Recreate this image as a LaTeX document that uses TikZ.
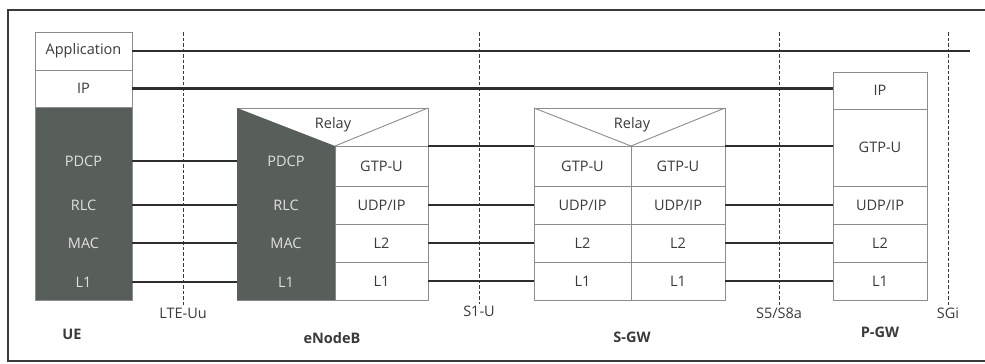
\documentclass[tikz,border=0pt]{standalone}
\usepackage{fontspec}
\setmainfont{Open Sans}
\usepackage{xcolor}
\usetikzlibrary{positioning}

\definecolor{boxline}{HTML}{8C8C8C}
\definecolor{stackdark}{HTML}{585E59}
\definecolor{txtgray}{HTML}{3A3A3A}
\definecolor{linkgray}{HTML}{2E2E2E}

\begin{document}
\begin{tikzpicture}[
  x=1pt, y=-1pt,
  font=\fontsize{14.5}{16}\selectfont,
  layer/.style={draw=boxline, line width=0.9pt, fill=white, text=txtgray, inner sep=0pt, outer sep=0pt},
  darktxt/.style={text=white!88!black, inner sep=0pt, outer sep=0pt},
  label/.style={text=txtgray, inner sep=1pt},
  title/.style={text=txtgray, font=\fontsize{14.5}{16}\selectfont\bfseries},
  link/.style={draw=linkgray, line width=2.5pt},
  iface/.style={draw=txtgray, line width=0.8pt, dash pattern=on 3.5pt off 2pt}
]
  \useasboundingbox (0,0) rectangle (985,364);
  % outer frame, open to the right
  \draw[draw=txtgray, line width=1.3pt] (990,10) -- (8,10) -- (8,361) -- (990,361);

  % UE
  \node[layer, minimum width=97, minimum height=38, anchor=north west] (ue-app) at (35,32) {Application};
  \node[layer, minimum width=97, minimum height=37, below=0pt of ue-app] (ue-ip) {IP};
  \node[layer, fill=stackdark, minimum width=97, minimum height=193, below=0pt of ue-ip] (ue-dark) {};
  \node[darktxt, minimum width=97] (ue-pdcp) at (83.5,161) {PDCP};
  \node[darktxt, minimum width=97] (ue-rlc) at (83.5,205) {RLC};
  \node[darktxt, minimum width=97] (ue-mac) at (83.5,243) {MAC};
  \node[darktxt, minimum width=97] (ue-l1) at (83.5,282) {L1};

  % eNodeB
  \node[layer, minimum width=191, minimum height=192, anchor=north west] (enb) at (237,108) {};
  \node[layer, minimum width=93, minimum height=40, anchor=north west] (enb-gtp) at (335,146) {GTP-U};
  \node[layer, minimum width=93, minimum height=38, below=0pt of enb-gtp] (enb-udp) {UDP/IP};
  \node[layer, minimum width=93, minimum height=38, below=0pt of enb-udp] (enb-l2) {L2};
  \node[layer, minimum width=93, minimum height=38, below=0pt of enb-l2] (enb-l1) {L1};
  \fill[stackdark] (enb.north west) -- (enb-gtp.north west) -- (enb-l1.south west) -- (enb.south west) -- cycle;
  \draw[boxline, line width=0.9pt] (enb-gtp.north west) -- (enb.north east);
  \node[label] (enb-relay) at (333,125) {Relay};
  \node[darktxt, minimum width=98] (enb-pdcp) at (286,161) {PDCP};
  \node[darktxt, minimum width=98] (enb-rlc) at (286,205) {RLC};
  \node[darktxt, minimum width=98] (enb-mac) at (286,243) {MAC};
  \node[darktxt, minimum width=98] (enb-phy) at (286,282) {L1};

  % S-GW
  \node[layer, minimum width=191, minimum height=192, anchor=north west] (sgw) at (534,108) {};
  \node[layer, minimum width=97, minimum height=40, anchor=north west] (sgw-gtp1) at (534,146) {GTP-U};
  \node[layer, minimum width=97, minimum height=38, below=0pt of sgw-gtp1] (sgw-udp1) {UDP/IP};
  \node[layer, minimum width=97, minimum height=38, below=0pt of sgw-udp1] (sgw-l21) {L2};
  \node[layer, minimum width=97, minimum height=38, below=0pt of sgw-l21] (sgw-l11) {L1};
  \node[layer, minimum width=94, minimum height=40, anchor=north west] (sgw-gtp2) at (631,146) {GTP-U};
  \node[layer, minimum width=94, minimum height=38, below=0pt of sgw-gtp2] (sgw-udp2) {UDP/IP};
  \node[layer, minimum width=94, minimum height=38, below=0pt of sgw-udp2] (sgw-l22) {L2};
  \node[layer, minimum width=94, minimum height=38, below=0pt of sgw-l22] (sgw-l12) {L1};
  \draw[boxline, line width=0.9pt] (sgw.north west) -- (sgw-gtp1.north east) -- (sgw.north east);
  \node[label] (sgw-relay) at (632,125) {Relay};

  % P-GW
  \node[layer, minimum width=94, minimum height=37, anchor=north west] (pgw-ip) at (833,72) {IP};
  \node[layer, minimum width=94, minimum height=77, below=0pt of pgw-ip] (pgw-gtp) {GTP-U};
  \node[layer, minimum width=94, minimum height=38, below=0pt of pgw-gtp] (pgw-udp) {UDP/IP};
  \node[layer, minimum width=94, minimum height=38, below=0pt of pgw-udp] (pgw-l2) {L2};
  \node[layer, minimum width=94, minimum height=38, below=0pt of pgw-l2] (pgw-l1) {L1};

  % interfaces
  \node[label] (uu) at (183,313) {LTE-Uu};
  \node[label] (s1u) at (479,311) {S1-U};
  \node[label] (s5) at (779,313) {S5/S8a};
  \node[label] (sgi) at (948,313) {SGi};
  \coordinate (uu-top) at (183,32);
  \coordinate (s1u-top) at (479,32);
  \coordinate (s5-top) at (779,32);
  \coordinate (sgi-top) at (948,32);
  \draw[iface] (uu-top) -- (uu.north);
  \draw[iface] (s1u-top) -- (s1u.north);
  \draw[iface] (s5-top) -- (s5.north);
  \draw[iface] (sgi-top) -- (sgi.north);

  % node titles
  \node[title] (ue) at (72,334) {UE};
  \node[title] (enb-name) at (332,338) {eNodeB};
  \node[title] (sgw-name) at (632,337) {S-GW};
  \node[title] (pgw-name) at (880,332) {P-GW};

  % peer links
  \coordinate (app-end) at (970,51);
  \draw[link] (ue-app.east) -- (app-end);
  \draw[link] (ue-ip.east) -- (ue-ip.east -| pgw-ip.west);
  \draw[link] (ue-pdcp.east) -- (enb-pdcp.west);
  \draw[link] (ue-rlc.east) -- (enb-rlc.west);
  \draw[link] (ue-mac.east) -- (enb-mac.west);
  \draw[link] (ue-l1.east) -- (enb-phy.west);
  \draw[link] (enb-gtp.north east) -- (sgw-gtp1.north west);
  \draw[link] (enb-udp.east) -- (sgw-udp1.west);
  \draw[link] (enb-l2.east) -- (sgw-l21.west);
  \draw[link] (enb-l1.east) -- (sgw-l11.west);
  \draw[link] (sgw-gtp2.north east) -- (sgw-gtp2.north east -| pgw-gtp.west);
  \draw[link] (sgw-udp2.east) -- (pgw-udp.west);
  \draw[link] (sgw-l22.east) -- (pgw-l2.west);
  \draw[link] (sgw-l12.east) -- (pgw-l1.west);
\end{tikzpicture}
\end{document}
